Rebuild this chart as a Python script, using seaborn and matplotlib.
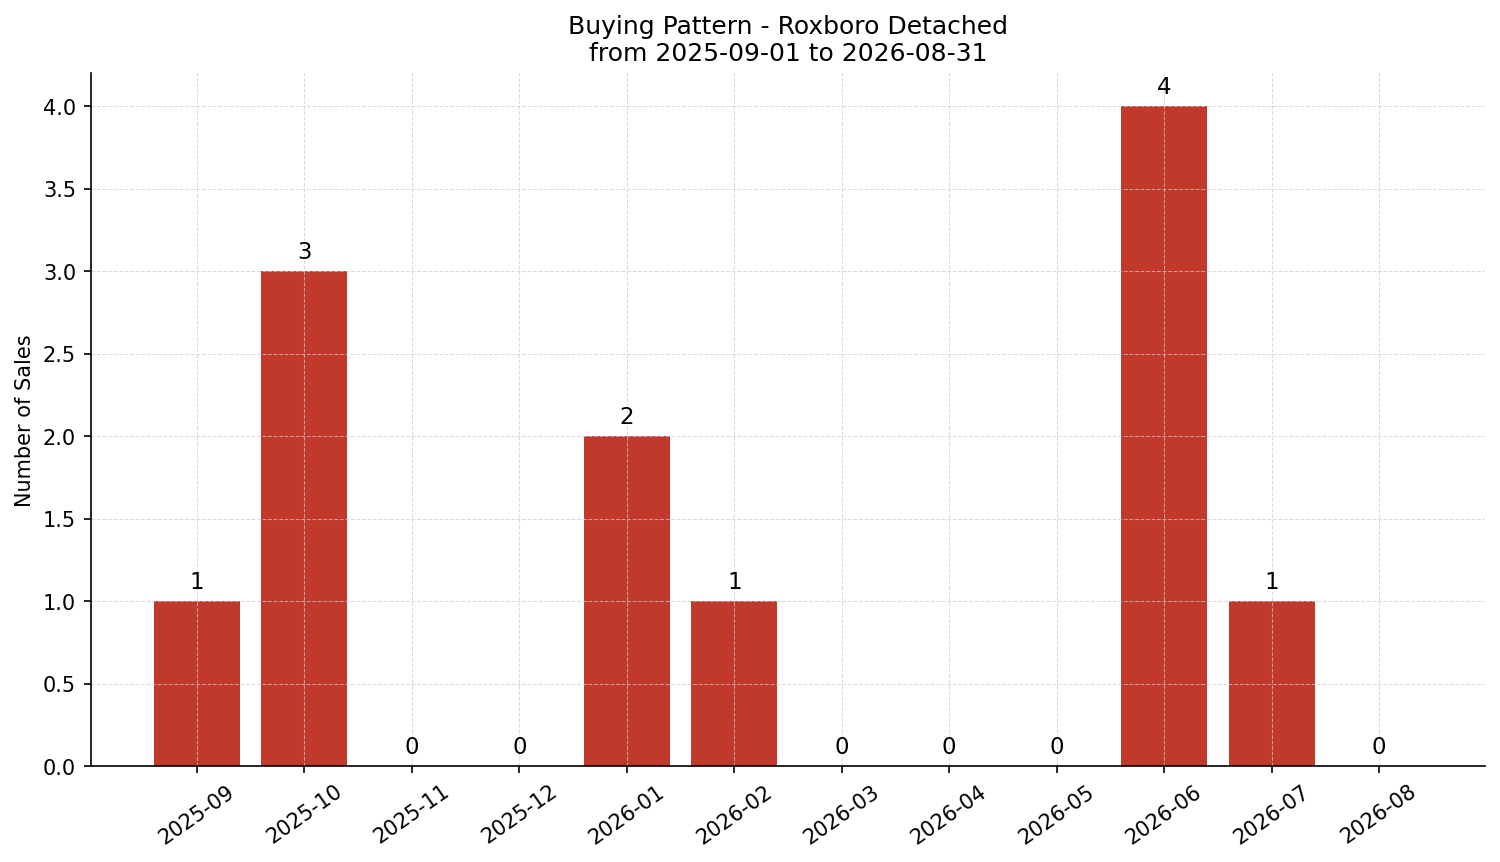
import matplotlib
matplotlib.use("Agg")
import matplotlib.pyplot as plt
import seaborn as sns
import pandas as pd

months = ['2025-09', '2025-10', '2025-11', '2025-12', '2026-01', '2026-02',
          '2026-03', '2026-04', '2026-05', '2026-06', '2026-07', '2026-08']
sales = [1, 3, 0, 0, 2, 1, 0, 0, 0, 4, 1, 0]

df = pd.DataFrame({'month': months, 'sales': sales})

fig, ax = plt.subplots(figsize=(10, 5.75), dpi=150)
sns.barplot(data=df, x='month', y='sales', color='#c0392b', saturation=1,
            width=0.8, ax=ax)

# keep matplotlib's default bar margins instead of seaborn's tight limits
n = len(months)
pad = 0.05 * (n - 1 + 0.8)
ax.set_xlim(-0.4 - pad, n - 1 + 0.4 + pad)
ax.set_ylim(0, max(sales) * 1.05)

ax.bar_label(ax.containers[0], fmt='%d', padding=4, fontsize=11)

ax.set_title('Buying Pattern - Roxboro Detached\nfrom 2025-09-01 to 2026-08-31')
ax.set_xlabel('')
ax.set_ylabel('Number of Sales')
ax.tick_params(axis='x', rotation=35)
ax.grid(True, linestyle='--', linewidth=0.5, color='#cccccc', alpha=0.7)
ax.spines['top'].set_visible(False)
ax.spines['right'].set_visible(False)

plt.tight_layout(pad=0.7)
plt.savefig('out.png', dpi=150)
